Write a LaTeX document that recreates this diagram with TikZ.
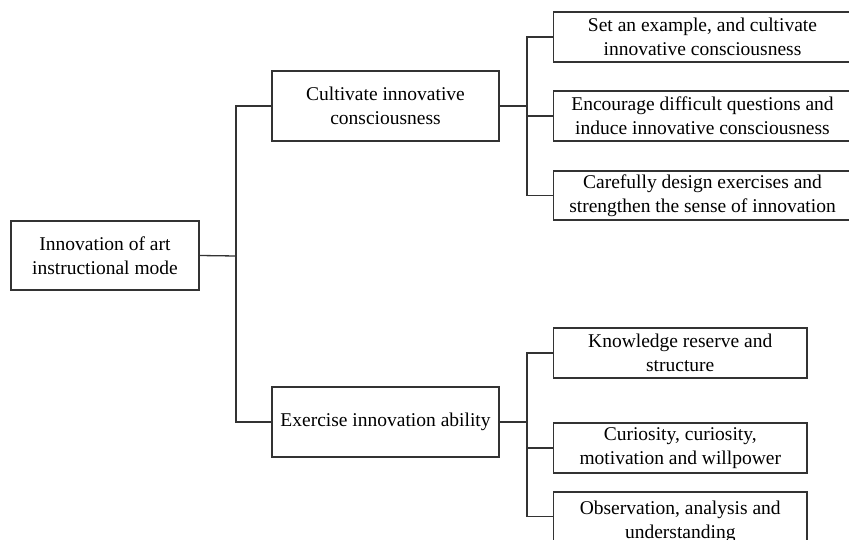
\documentclass[tikz,border=0pt]{standalone}
\usepackage{fontspec}
\setmainfont{Liberation Serif}
\begin{document}
\begin{tikzpicture}[x=1pt,y=-1pt,
  box/.style={draw=black!80,line width=1.3pt,fill=white,inner sep=0pt,align=center,
    font=\fontsize{19.5pt}{24pt}\selectfont},
  link/.style={draw=black!80,line width=1.3pt}]
\clip (0,0) rectangle (849,540);
\fill[white] (0,0) rectangle (849,540);
% nodes
\node[box,minimum width=188pt,minimum height=69pt] (root) at (105,255.5) {Innovation of art\\instructional mode};
\node[box,minimum width=227pt,minimum height=70pt] (m1) at (385.5,106) {Cultivate innovative\\consciousness};
\node[box,minimum width=227pt,minimum height=70pt] (m2) at (385.5,422) {Exercise innovation ability};
\node[box,minimum width=298pt,minimum height=50pt] (r1) at (702.5,37) {Set an example, and cultivate\\innovative consciousness};
\node[box,minimum width=298pt,minimum height=50pt] (r2) at (702.5,116) {Encourage difficult questions and\\induce innovative consciousness};
\node[box,minimum width=298pt,minimum height=49pt] (r3) at (702.5,195.5) {Carefully design exercises and\\strengthen the sense of innovation};
\node[box,minimum width=253.5pt,minimum height=50pt] (r4) at (680.25,353) {Knowledge reserve and\\structure};
\node[box,minimum width=253.5pt,minimum height=50pt] (r5) at (680.25,448) {Curiosity, curiosity,\\motivation and willpower};
\node[box,minimum width=253.5pt,minimum height=60pt] (r6) at (680.25,522) {Observation, analysis and\\understanding};
% junctions
\coordinate (t) at (236,256);
\coordinate (b1) at (527,106);
\coordinate (b2) at (527,422);
% connectors
\draw[link] (root.east) -- (t);
\draw[link] (m1.west) -| (t) |- (m2.west);
\draw[link] (m1.east) -- (b1);
\draw[link] (r1.west) -| (b1) |- (r3.west);
\draw[link] (b1) |- (r2.west);
\draw[link] (m2.east) -- (b2);
\draw[link] (r4.west) -| (b2) |- ([yshift=-25pt]r6.north west);
\draw[link] (b2) |- (r5.west);
\end{tikzpicture}
\end{document}
